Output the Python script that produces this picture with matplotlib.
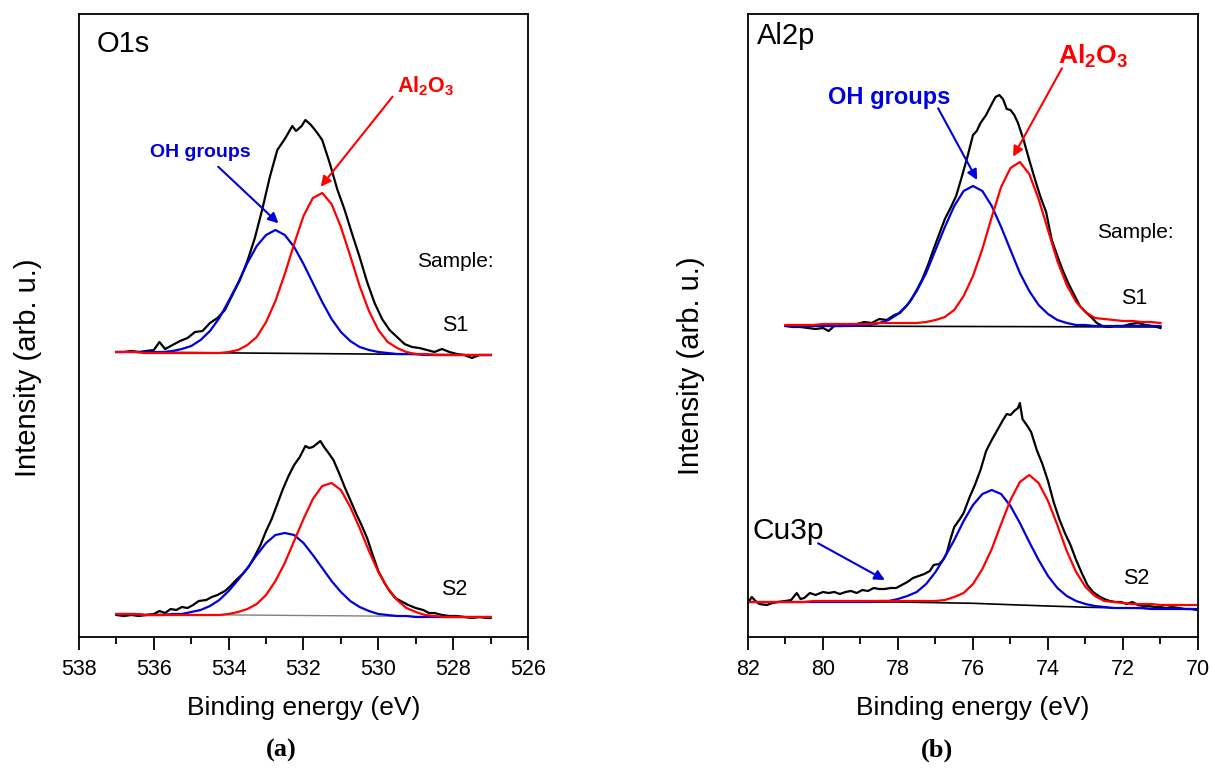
import matplotlib
matplotlib.use("Agg")
import matplotlib.pyplot as plt
from matplotlib.ticker import MultipleLocator

plt.rcParams["font.family"] = ["Liberation Sans", "DejaVu Sans"]
plt.rcParams["mathtext.fontset"] = "custom"
plt.rcParams["mathtext.rm"] = "Liberation Sans"
plt.rcParams["mathtext.bf"] = "Liberation Sans:bold"

BLUE = "#0000dd"
RED = "#ff0000"

# ---------------- O1s panel (a) ----------------
o1s_fit_e = [537, 536.75, 536.5, 536.25, 536, 535.75, 535.5, 535.25, 535, 534.75,
             534.5, 534.25, 534, 533.75, 533.5, 533.25, 533, 532.75, 532.5, 532.25,
             532, 531.75, 531.5, 531.25, 531, 530.75, 530.5, 530.25, 530, 529.75,
             529.5, 529.25, 529, 528.75, 528.5, 528.25, 528, 527.75, 527.5, 527.25, 527]
o1s_s1_oh = [285, 285, 285, 285, 285, 285, 286, 288, 291, 297,
             306, 319, 336, 354, 374, 391, 402, 407, 402, 390,
             373, 354, 335, 318, 305, 296, 290, 287, 285, 284,
             283, 283, 283, 282, 282, 282, 282, 282, 282, 282, 282]
o1s_s1_al = [285, 285, 285, 284, 284, 284, 284, 284, 284, 284,
             284, 284, 285, 287, 292, 300, 315, 336, 363, 393,
             421, 439, 444, 433, 410, 381, 351, 326, 307, 295,
             289, 285, 283, 283, 282, 282, 282, 282, 282, 282, 282]
o1s_s2_oh = [23, 23, 23, 22, 22, 22, 23, 23, 25, 27,
             31, 37, 46, 57, 69, 82, 94, 102, 104, 102,
             94, 82, 69, 56, 45, 36, 30, 26, 23, 22,
             21, 21, 20, 20, 20, 20, 20, 20, 20, 20, 20]
o1s_s2_al = [23, 23, 23, 22, 22, 22, 22, 22, 22, 22,
             22, 22, 23, 25, 28, 33, 42, 56, 74, 96,
             118, 138, 151, 154, 147, 130, 109, 86, 65, 49,
             37, 29, 25, 22, 21, 20, 20, 20, 20, 20, 20]
o1s_s1_base_e = [537, 527]
o1s_s1_base = [285, 282]
o1s_s2_base_e = [537, 527]
o1s_s2_base = [23, 20]

o1s_s1_e = [537.0, 536.8, 536.6, 536.4, 536.2, 536.0, 535.85, 535.7, 535.5, 535.3,
            535.1, 534.9, 534.7, 534.5, 534.3, 534.1, 533.9, 533.7, 533.5, 533.3,
            533.1, 532.9, 532.7, 532.5, 532.3, 532.2, 532.05, 531.95, 531.8, 531.65,
            531.5, 531.3, 531.1, 530.9, 530.7, 530.5, 530.3, 530.1, 529.9, 529.7,
            529.5, 529.3, 529.1, 528.9, 528.7, 528.5, 528.3, 528.1, 527.9, 527.7,
            527.5, 527.3, 527.0]
o1s_s1 = [285, 285, 286, 285, 286, 287, 295, 288, 292, 296,
          299, 305, 306, 314, 319, 327, 342, 357, 376, 399,
          428, 460, 487, 498, 511, 506, 511, 517, 512, 505,
          497, 474, 448, 427, 403, 380, 355, 334, 318, 307,
          300, 293, 290, 289, 287, 285, 288, 285, 283, 282,
          279, 282, 282]

o1s_s2_e = [537.0, 536.8, 536.6, 536.4, 536.2, 536.0, 535.85, 535.7, 535.55, 535.4,
            535.25, 535.1, 534.95, 534.8, 534.6, 534.45, 534.3, 534.1, 533.95, 533.8,
            533.6, 533.45, 533.3, 533.15, 533.0, 532.85, 532.7, 532.55, 532.4, 532.25,
            532.1, 531.95, 531.85, 531.75, 531.65, 531.55, 531.45, 531.35, 531.2, 531.05,
            530.9, 530.75, 530.6, 530.45, 530.3, 530.15, 530.0, 529.85, 529.7, 529.55,
            529.4, 529.2, 529.0, 528.8, 528.65, 528.5, 528.3, 528.1, 527.9, 527.7,
            527.5, 527.3, 527.1, 527.0]
o1s_s2 = [22, 21, 22, 21, 22, 23, 26, 24, 28, 27,
          30, 29, 32, 36, 37, 40, 42, 46, 51, 57,
          64, 71, 81, 92, 106, 118, 133, 148, 161, 172,
          180, 191, 189, 190, 193, 196, 190, 185, 177, 164,
          150, 137, 124, 112, 99, 82, 66, 55, 46, 39,
          36, 32, 29, 27, 24, 24, 22, 21, 21, 20,
          19, 20, 19, 19]

# ---------------- Al2p panel (b) ----------------
al_s1_fit_e = [81, 80.75, 80.5, 80.25, 80, 79.75, 79.5, 79.25, 79, 78.75,
               78.5, 78.25, 78, 77.75, 77.5, 77.25, 77, 76.75, 76.5, 76.25,
               76, 75.75, 75.5, 75.25, 75, 74.75, 74.5, 74.25, 74, 73.75,
               73.5, 73.25, 73, 72.75, 72.5, 72.25, 72, 71.75, 71.5, 71.25, 71]
al_s1_oh = [311, 311, 311, 311, 311, 311, 311, 311, 312, 312,
            314, 317, 323, 332, 346, 364, 387, 410, 431, 446,
            451, 446, 431, 410, 387, 364, 346, 332, 323, 317,
            314, 312, 312, 311, 311, 311, 311, 311, 311, 311, 311]
al_s1_al = [312, 312, 312, 312, 313, 313, 313, 313, 313, 313,
            314, 314, 314, 314, 314, 315, 317, 320, 327, 341,
            361, 388, 420, 450, 469, 475, 463, 438, 407, 376,
            352, 335, 325, 319, 318, 317, 316, 316, 315, 315, 314]

al_s2_fit_e = [82, 81.75, 81.5, 81.25, 81, 80.75, 80.5, 80.25, 80, 79.75,
               79.5, 79.25, 79, 78.75, 78.5, 78.25, 78, 77.75, 77.5, 77.25,
               77, 76.75, 76.5, 76.25, 76, 75.75, 75.5, 75.25, 75, 74.75,
               74.5, 74.25, 74, 73.75, 73.5, 73.25, 73, 72.75, 72.5, 72.25,
               72, 71.75, 71.5, 71.25, 71, 70.75, 70.5, 70.25, 70]
al_s2_oh = [35, 35, 35, 35, 35, 35, 35, 35, 35, 35,
            35, 35, 35, 35, 36, 36, 38, 41, 45, 53,
            65, 80, 97, 116, 132, 143, 147, 143, 131, 114,
            95, 77, 61, 49, 41, 36, 33, 31, 30, 29,
            29, 29, 29, 28, 28, 28, 28, 28, 28]
al_s2_al = [35, 35, 35, 35, 35, 35, 35, 36, 36, 36,
            36, 36, 36, 36, 36, 36, 36, 36, 36, 36,
            36, 37, 40, 44, 53, 68, 88, 113, 137, 155,
            162, 154, 136, 112, 86, 65, 50, 41, 36, 35,
            34, 33, 33, 33, 32, 32, 32, 32, 32]
al_s1_base_e = [81, 71]
al_s1_base = [311, 310]
al_s2_base_e = [82, 78, 76, 75, 74, 73, 72, 70]
al_s2_base = [35, 35, 33.7, 32.3, 31, 29.8, 29, 27.7]

al_s1_e = [81.0, 80.8, 80.6, 80.4, 80.2, 80.0, 79.85, 79.7, 79.5, 79.3,
           79.1, 78.9, 78.7, 78.5, 78.3, 78.1, 77.95, 77.8, 77.65, 77.5,
           77.35, 77.2, 77.05, 76.9, 76.75, 76.6, 76.45, 76.3, 76.15, 76.0,
           75.9, 75.8, 75.65, 75.5, 75.4, 75.3, 75.2, 75.1, 75.0, 74.9,
           74.8, 74.65, 74.5, 74.35, 74.2, 74.05, 73.9, 73.75, 73.6, 73.45,
           73.3, 73.15, 73.0, 72.85, 72.7, 72.55, 72.4, 72.2, 72.0, 71.8,
           71.6, 71.4, 71.2, 71.0]
al_s1 = [311, 310, 310, 309, 308, 309, 306, 311, 311, 312,
         313, 315, 314, 318, 317, 322, 324, 330, 337, 347,
         358, 372, 388, 403, 418, 429, 441, 460, 480, 502,
         506, 514, 522, 533, 540, 542, 538, 528, 527, 522,
         514, 497, 477, 458, 440, 425, 397, 381, 366, 353,
         342, 331, 325, 320, 314, 311, 310, 311, 311, 313,
         314, 312, 311, 309]

al_s2_e = [82.0, 81.9, 81.8, 81.7, 81.5, 81.35, 81.2, 81.0, 80.85, 80.7,
           80.6, 80.5, 80.35, 80.2, 80.0, 79.85, 79.7, 79.55, 79.4, 79.25,
           79.1, 78.95, 78.8, 78.65, 78.5, 78.35, 78.2, 78.05, 77.9, 77.75,
           77.6, 77.45, 77.3, 77.15, 77.05, 76.9, 76.8, 76.7, 76.6, 76.5,
           76.35, 76.25, 76.1, 75.95, 75.8, 75.65, 75.5, 75.35, 75.2, 75.1,
           75.0, 74.9, 74.8, 74.75, 74.68, 74.55, 74.45, 74.3, 74.15, 74.0,
           73.85, 73.7, 73.55, 73.4, 73.25, 73.1, 72.95, 72.8, 72.65, 72.5,
           72.35, 72.2, 72.05, 71.9, 71.75, 71.6, 71.45, 71.3, 71.15, 71.0,
           70.85, 70.7, 70.5, 70.35, 70.2, 70.0]
al_s2 = [34, 40, 36, 33, 32, 34, 35, 36, 37, 44,
         38, 39, 44, 42, 45, 44, 45, 43, 45, 46,
         44, 47, 46, 49, 48, 48, 49, 49, 52, 55,
         59, 61, 63, 66, 72, 73, 77, 84, 98, 110,
         118, 124, 139, 152, 167, 186, 197, 207, 217, 223,
         222, 226, 229, 234, 218, 211, 205, 187, 173, 156,
         135, 118, 104, 92, 77, 64, 52, 45, 41, 38,
         36, 35, 35, 33, 35, 32, 31, 31, 30, 30,
         29, 30, 29, 28, 28, 27]


fig = plt.figure(figsize=(12.1, 7.69), dpi=100)
ax1 = fig.add_axes([0.06529, 0.17165, 0.37107, 0.81014])
ax2 = fig.add_axes([0.61818, 0.17165, 0.37190, 0.81014])


def style(ax, lo, hi, ylab_x, ylab_y):
    ax.set_xlim(lo, hi)
    ax.set_ylim(0, 623)
    ax.xaxis.set_major_locator(MultipleLocator(2))
    ax.xaxis.set_minor_locator(MultipleLocator(1))
    ax.tick_params(axis="x", which="major", direction="out", length=9, width=1.3,
                   labelsize=15.5, pad=7)
    ax.tick_params(axis="x", which="minor", direction="out", length=5, width=1.3)
    ax.tick_params(axis="y", which="both", left=False, labelleft=False)
    for sp in ax.spines.values():
        sp.set_linewidth(1.3)
    ax.set_xlabel("Binding energy (eV)", fontsize=19, va="top")
    ax.set_ylabel("Intensity (arb. u.)", fontsize=21)
    ax.xaxis.set_label_coords(0.5, -0.094)
    ax.yaxis.set_label_coords(ylab_x, ylab_y)


arrow = dict(arrowstyle="-|>", lw=1.5, mutation_scale=15, shrinkA=0, shrinkB=0)

# panel (a)
ax1.plot(o1s_s1_base_e, o1s_s1_base, color="black", lw=1.2)
ax1.plot(o1s_s2_base_e, o1s_s2_base, color="#808080", lw=1.0)
ax1.plot(o1s_s1_e, o1s_s1, color="black", lw=1.6)
ax1.plot(o1s_s2_e, o1s_s2, color="black", lw=1.6)
ax1.plot(o1s_fit_e, o1s_s1_oh, color=BLUE, lw=1.6)
ax1.plot(o1s_fit_e, o1s_s2_oh, color=BLUE, lw=1.6)
ax1.plot(o1s_fit_e, o1s_s1_al, color=RED, lw=1.6)
ax1.plot(o1s_fit_e, o1s_s2_al, color=RED, lw=1.6)
style(ax1, 538, 526, -0.082, 0.432)

ax1.text(0.040, 0.974, "O1s", transform=ax1.transAxes, fontsize=21, va="top", ha="left")
ax1.text(534.77, 485, "OH groups", color=BLUE, fontsize=14, fontweight="bold",
         ha="center", va="center")
ax1.annotate("", xy=(532.67, 413.7), xytext=(534.28, 470.3),
             arrowprops=dict(arrow, color=BLUE))
ax1.text(529.5, 545, r"$\mathbf{Al_2O_3}$", color=RED, fontsize=15.5,
         ha="left", va="baseline")
ax1.annotate("", xy=(531.54, 450.3), xytext=(529.62, 540.3),
             arrowprops=dict(arrow, color=RED))
ax1.text(527.95, 376, "Sample:", fontsize=15, ha="center", va="center")
ax1.text(527.95, 311.5, "S1", fontsize=15.5, ha="center", va="center")
ax1.text(527.98, 48, "S2", fontsize=15.5, ha="center", va="center")

# panel (b)
ax2.plot(al_s1_base_e, al_s1_base, color="black", lw=1.2)
ax2.plot(al_s2_base_e, al_s2_base, color="black", lw=1.2)
ax2.plot(al_s1_e, al_s1, color="black", lw=1.6)
ax2.plot(al_s2_e, al_s2, color="black", lw=1.6)
ax2.plot(al_s1_fit_e, al_s1_oh, color=BLUE, lw=1.6)
ax2.plot(al_s2_fit_e, al_s2_oh, color=BLUE, lw=1.6)
ax2.plot(al_s1_fit_e, al_s1_al, color=RED, lw=1.6)
ax2.plot(al_s2_fit_e, al_s2_al, color=RED, lw=1.6)
style(ax2, 82, 70, -0.096, 0.435)

ax2.text(0.020, 0.987, "Al2p", transform=ax2.transAxes, fontsize=21, va="top", ha="left")
ax2.text(78.23, 540, "OH groups", color=BLUE, fontsize=17, fontweight="bold",
         ha="center", va="center")
ax2.annotate("", xy=(75.89, 457), xytext=(76.93, 528.7),
             arrowprops=dict(arrow, color=BLUE))
ax2.text(73.73, 573.7, r"$\mathbf{Al_2O_3}$", color=RED, fontsize=19,
         ha="left", va="baseline")
ax2.annotate("", xy=(74.93, 480.3), xytext=(73.63, 568.7),
             arrowprops=dict(arrow, color=RED))
ax2.text(71.67, 404.5, "Sample:", fontsize=15, ha="center", va="center")
ax2.text(71.69, 338.5, "S1", fontsize=15.5, ha="center", va="center")
ax2.text(71.64, 59, "S2", fontsize=15.5, ha="center", va="center")
ax2.text(81.89, 97.7, "Cu3p", fontsize=21.5, ha="left", va="baseline")
ax2.annotate("", xy=(78.35, 57), xytext=(80.13, 93.7),
             arrowprops=dict(arrow, color=BLUE))

fig.text(281 / 1210, 1 - 750 / 769, "(a)", family=["Liberation Serif", "DejaVu Serif"],
         fontsize=19, fontweight="bold", ha="center", va="center")
fig.text(937 / 1210, 1 - 750 / 769, "(b)", family=["Liberation Serif", "DejaVu Serif"],
         fontsize=19, fontweight="bold", ha="center", va="center")

fig.savefig("out.png", dpi=100)
